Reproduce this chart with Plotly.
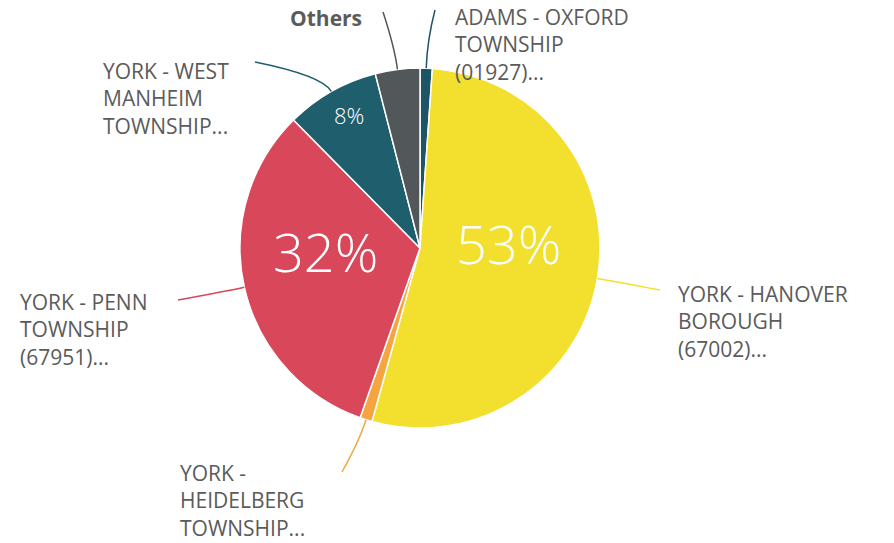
import math
import plotly.graph_objects as go

# slices, clockwise from 12 o'clock
label_lines = [
    ["ADAMS - OXFORD", "TOWNSHIP", "(01927)..."],
    ["YORK - HANOVER", "BOROUGH", "(67002)..."],
    ["YORK -", "HEIDELBERG", "TOWNSHIP..."],
    ["YORK - PENN", "TOWNSHIP", "(67951)..."],
    ["YORK - WEST", "MANHEIM", "TOWNSHIP..."],
    ["<b>Others</b>"],
]
values = [1.1, 53.2, 1.1, 32.2, 8.4, 4.0]
colors = ["#1d5566", "#f2df2e", "#f4a540", "#d8475a", "#1f5e6c", "#52585a"]

W, H = 894, 543
cx, cy, R = 420, 248, 180  # pie centre / radius in px

# label placement (px): x edge, centre y of the text block, alignment
label_pos = [
    (453, 44, "left"),
    (676, 321, "left"),
    (178, 500, "left"),
    (18, 329, "left"),
    (101, 99, "left"),
    (364, 18, "right"),
]
leader_end = [(435, 10), (660, 290), (342, 472), (178, 300), (255, 62), (383, 12)]
leader_out = [28, 20, 22, 20, 18, 22]

# percent labels shown inside the larger slices
pct_pos = {1: (508, 243, 54), 3: (325, 251, 54), 4: (349, 115, 22)}


def px2paper(x, y):
    return x / W, 1 - y / H


dx0, dy1 = px2paper(cx - R, cy - R)
dx1, dy0 = px2paper(cx + R, cy + R)

fig = go.Figure(go.Pie(
    labels=[" ".join(l).replace("<b>", "").replace("</b>", "") for l in label_lines],
    values=values,
    sort=False,
    direction="clockwise",
    rotation=0,
    marker=dict(colors=colors, line=dict(color="white", width=1.5)),
    textinfo="none",
    hoverinfo="label+percent",
    domain=dict(x=[dx0, dx1], y=[dy0, dy1]),
    showlegend=False,
))

total = sum(values)
start = 0.0
shapes, annotations = [], []
for i, v in enumerate(values):
    ang = (start + v / 2) / total * 2 * math.pi
    start += v
    sx, sy = cx + R * math.sin(ang), cy - R * math.cos(ang)
    qx = cx + (R + leader_out[i]) * math.sin(ang)
    qy = cy - (R + leader_out[i]) * math.cos(ang)
    ex, ey = leader_end[i]
    p0, p1, p2 = px2paper(sx, sy), px2paper(qx, qy), px2paper(ex, ey)
    shapes.append(dict(
        type="path", xref="paper", yref="paper",
        path=f"M {p0[0]},{p0[1]} Q {p1[0]},{p1[1]} {p2[0]},{p2[1]}",
        line=dict(color=colors[i], width=1.5),
    ))
    lx, ly, al = label_pos[i]
    ax, ay = px2paper(lx, ly)
    annotations.append(dict(
        x=ax, y=ay, xref="paper", yref="paper",
        text="<br>".join(label_lines[i]), showarrow=False, align=al,
        xanchor=al, yanchor="middle",
        font=dict(family="Open Sans", size=21, color="#5b5b5b"),
    ))
    if i in pct_pos:
        tx, ty, ts = pct_pos[i]
        ax, ay = px2paper(tx, ty)
        annotations.append(dict(
            x=ax, y=ay, xref="paper", yref="paper",
            text=f"{round(v / total * 100)}%", showarrow=False,
            xanchor="center", yanchor="middle",
            font=dict(family="Open Sans", size=ts, color="white", weight=300),
        ))

fig.update_layout(
    width=W, height=H,
    margin=dict(l=0, r=0, t=0, b=0),
    paper_bgcolor="white",
    plot_bgcolor="white",
    shapes=shapes,
    annotations=annotations,
)

# drop the default page margin so the figure fills the window
fig.write_html(
    "out.html",
    config={"displayModeBar": False},
    post_script="document.body.style.margin = '0';",
)
